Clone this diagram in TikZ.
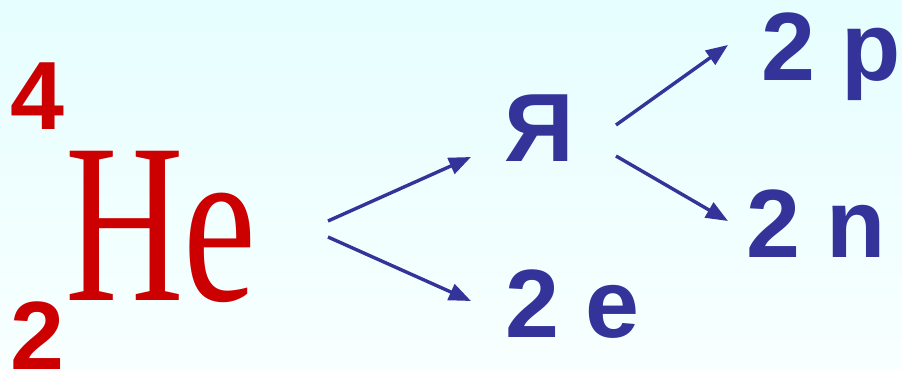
\documentclass[tikz,border=0pt]{standalone}
\usepackage{fontspec}
\setmainfont{Liberation Serif}
\newfontfamily\arialf{Liberation Sans}
\usetikzlibrary{arrows.meta}
\definecolor{bluetxt}{RGB}{51,51,153}
\definecolor{redtxt}{RGB}{204,0,0}
\definecolor{bgtop}{RGB}{230,254,255}
\definecolor{bgbot}{RGB}{248,255,255}
\tikzset{
  lbl/.style={inner sep=0pt, outer sep=0pt, anchor=base west, text=bluetxt,
    font=\arialf\bfseries\fontsize{97}{97}\selectfont},
  nuc/.style={inner sep=0pt, outer sep=0pt, anchor=base west, text=redtxt,
    font=\arialf\bfseries\fontsize{97}{97}\selectfont},
  elem/.style={inner sep=0pt, outer sep=0pt, anchor=base west, text=redtxt,
    font=\fontsize{228}{228}\selectfont, xscale=0.72},
  arr/.style={draw=bluetxt, line width=3.4pt,
    -{Triangle[length=22pt,width=17pt]}}
}
\begin{document}
\begin{tikzpicture}[x=1pt,y=-1pt]
\shade[top color=bgtop, bottom color=bgbot] (0,0) rectangle (902,369);
\useasboundingbox (0,0) rectangle (902,369);
% red nuclide
\node[nuc] (mass) at (10,129) {4};
\node[nuc] (charge) at (10,369) {2};
\node[elem] (he) at (65,300) {He};
% blue products
\node[lbl] (ya) at (504,161) {Я};
\node[lbl] (e) at (505,337) {2 e};
\node[lbl] (p) at (761,81) {2 p};
\node[lbl] (n) at (746,257) {2 n};
% arrow endpoints
\coordinate (a1s) at (328,221);
\coordinate (a1e) at (471,157);
\coordinate (a2s) at (328,237);
\coordinate (a2e) at (471,301);
\coordinate (a3s) at (616,125);
\coordinate (a3e) at (728,45);
\coordinate (a4s) at (616,156);
\coordinate (a4e) at (728,221);
\draw[arr] (a1s) -- (a1e);
\draw[arr] (a2s) -- (a2e);
\draw[arr] (a3s) -- (a3e);
\draw[arr] (a4s) -- (a4e);
\end{tikzpicture}
\end{document}
